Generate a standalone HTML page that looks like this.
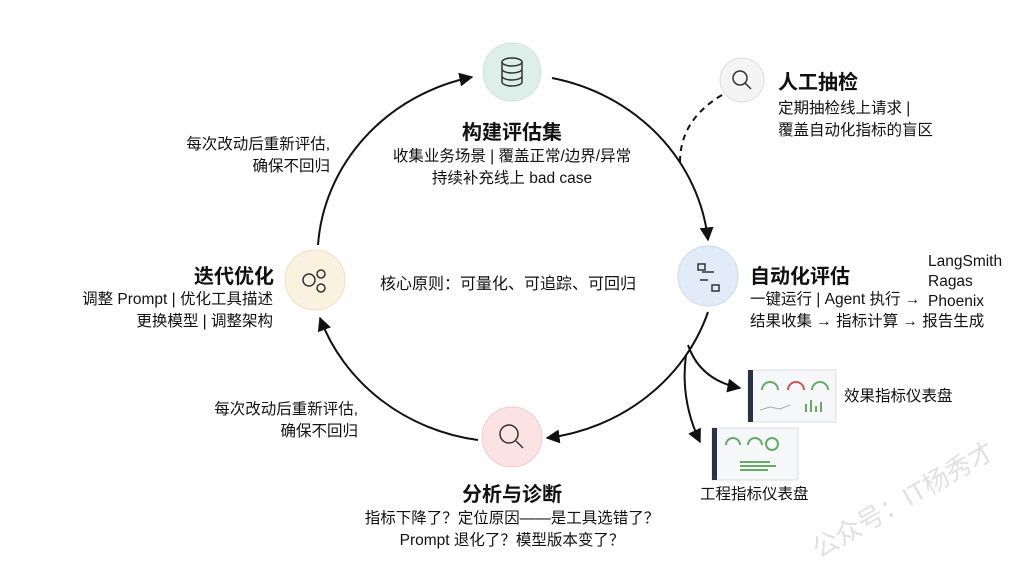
<!DOCTYPE html>
<html><head><meta charset="utf-8"><style>
body{margin:0;width:1024px;height:559px;background:#fff;position:relative;overflow:hidden;font-family:"Liberation Sans","Noto Sans CJK SC",sans-serif;color:#111}
.t{position:absolute;white-space:nowrap}
.h{font-size:20px;font-weight:bold}
.s{font-size:15.5px;line-height:22px}
.c{text-align:center}
</style></head><body>
<svg width="1024" height="559" style="position:absolute;left:0;top:0">
<defs><marker id="a" viewBox="0 0 10 10" refX="9" refY="5" markerWidth="7" markerHeight="7" orient="auto"><path d="M0,0L10,5L0,10z" fill="#111"/></marker></defs>
<g fill="none" stroke="#111" stroke-width="2">
<path d="M318,245 A197,185 0 0 1 472,77" marker-end="url(#a)"/>
<path d="M552,78 A197,185 0 0 1 708,240" marker-end="url(#a)"/>
<path d="M708,312 A197,185 0 0 1 547,438" marker-end="url(#a)"/>
<path d="M478,440 A197,185 0 0 1 320,318" marker-end="url(#a)"/>
<path d="M722,95 Q680,120 680,162" stroke-dasharray="6,5"/>
<path d="M688,345 Q700,380 740,388" marker-end="url(#a)"/>
<path d="M686,355 Q680,400 700,442" marker-end="url(#a)"/>
</g>
<circle cx="512" cy="72" r="29" fill="#dcefe8" stroke="#cfe3dc"/>
<circle cx="742" cy="80" r="22" fill="#f4f4f4" stroke="#ddd"/>
<circle cx="708" cy="276" r="30" fill="#e2ebf8" stroke="#ccd9ee"/>
<circle cx="315" cy="280" r="30" fill="#fbf1df" stroke="#eee0c4"/>
<circle cx="512" cy="437" r="30" fill="#fbe3e3" stroke="#f0cccc"/>
<g fill="none" stroke="#333" stroke-width="1.5">
<ellipse cx="512" cy="62" rx="10" ry="4"/><path d="M502,62v20a10,4 0 0 0 20,0v-20M502,69a10,4 0 0 0 20,0M502,76a10,4 0 0 0 20,0"/>
<circle cx="740" cy="78" r="7"/><path d="M745,83l6,6"/>
<rect x="698" y="264" width="7" height="6"/><path d="M702,272h12M708,280h-8"/><rect x="712" y="285" width="7" height="6"/>
<circle cx="309" cy="280" r="6"/><circle cx="321" cy="274" r="4"/><circle cx="321" cy="288" r="4"/>
<circle cx="509" cy="434" r="9"/><path d="M516,441l7,7"/>
</g>
<g>
<rect x="748" y="370" width="88" height="52" fill="#f6f7f9" stroke="#ddd"/><rect x="748" y="370" width="5" height="52" fill="#2a3242"/>
<rect x="712" y="428" width="86" height="52" fill="#f6f7f9" stroke="#ddd"/><rect x="712" y="428" width="5" height="52" fill="#2a3242"/>
<g fill="none" stroke-width="2"><path d="M762,390a8,8 0 0 1 16,0" stroke="#6a6"/><path d="M788,390a8,8 0 0 1 16,0" stroke="#c55"/><path d="M812,390a8,8 0 0 1 16,0" stroke="#6a6"/>
<path d="M760,410l10,-3l10,2l10,-4" stroke="#aaa" stroke-width="1"/>
<path d="M726,445a7,7 0 0 1 14,0M748,445a7,7 0 0 1 14,0" stroke="#6a6"/><circle cx="772" cy="444" r="6" stroke="#6a6"/></g>
<g stroke="#6a6" stroke-width="2"><path d="M806,412v-8M811,412v-12M816,412v-6M821,412v-10"/><path d="M740,462h30M740,466h36M740,470h28"/></g>
</g>
</svg>
<div class="t h c" style="left:412px;top:116px;width:200px">构建评估集</div>
<div class="t s c" style="left:362px;top:146px;width:300px">收集业务场景 | 覆盖正常/边界/异常<br>持续补充线上 bad case</div>
<div class="t h" style="left:778px;top:66px">人工抽检</div>
<div class="t s" style="left:778px;top:98px">定期抽检线上请求 |<br>覆盖自动化指标的盲区</div>
<div class="t h" style="left:750px;top:260px">自动化评估</div>
<div class="t s" style="left:750px;top:289px">一键运行 | Agent 执行 →<br>结果收集 → 指标计算 → 报告生成</div>
<div class="t s" style="left:928px;top:252px;line-height:20px">LangSmith<br>Ragas<br>Phoenix</div>
<div class="t h" style="left:194px;top:260px">迭代优化</div>
<div class="t s" style="left:73px;top:289px;width:200px;text-align:right">调整 Prompt | 优化工具描述<br>更换模型 | 调整架构</div>
<div class="t" style="left:380px;top:270px;font-size:16px">核心原则：可量化、可追踪、可回归</div>
<div class="t s" style="left:160px;top:134px;width:170px;text-align:right">每次改动后重新评估,<br>确保不回归</div>
<div class="t s" style="left:188px;top:399px;width:170px;text-align:right">每次改动后重新评估,<br>确保不回归</div>
<div class="t h c" style="left:412px;top:478px;width:200px">分析与诊断</div>
<div class="t s c" style="left:342px;top:508px;width:340px">指标下降了？定位原因——是工具选错了？<br>Prompt 退化了？模型版本变了？</div>
<div class="t s" style="left:844px;top:386px">效果指标仪表盘</div>
<div class="t s" style="left:700px;top:484px">工程指标仪表盘</div>
<div class="t" style="left:800px;top:480px;font-size:26px;color:rgba(0,0,0,.12);transform:rotate(-30deg)">公众号：IT杨秀才</div>
</body></html>
